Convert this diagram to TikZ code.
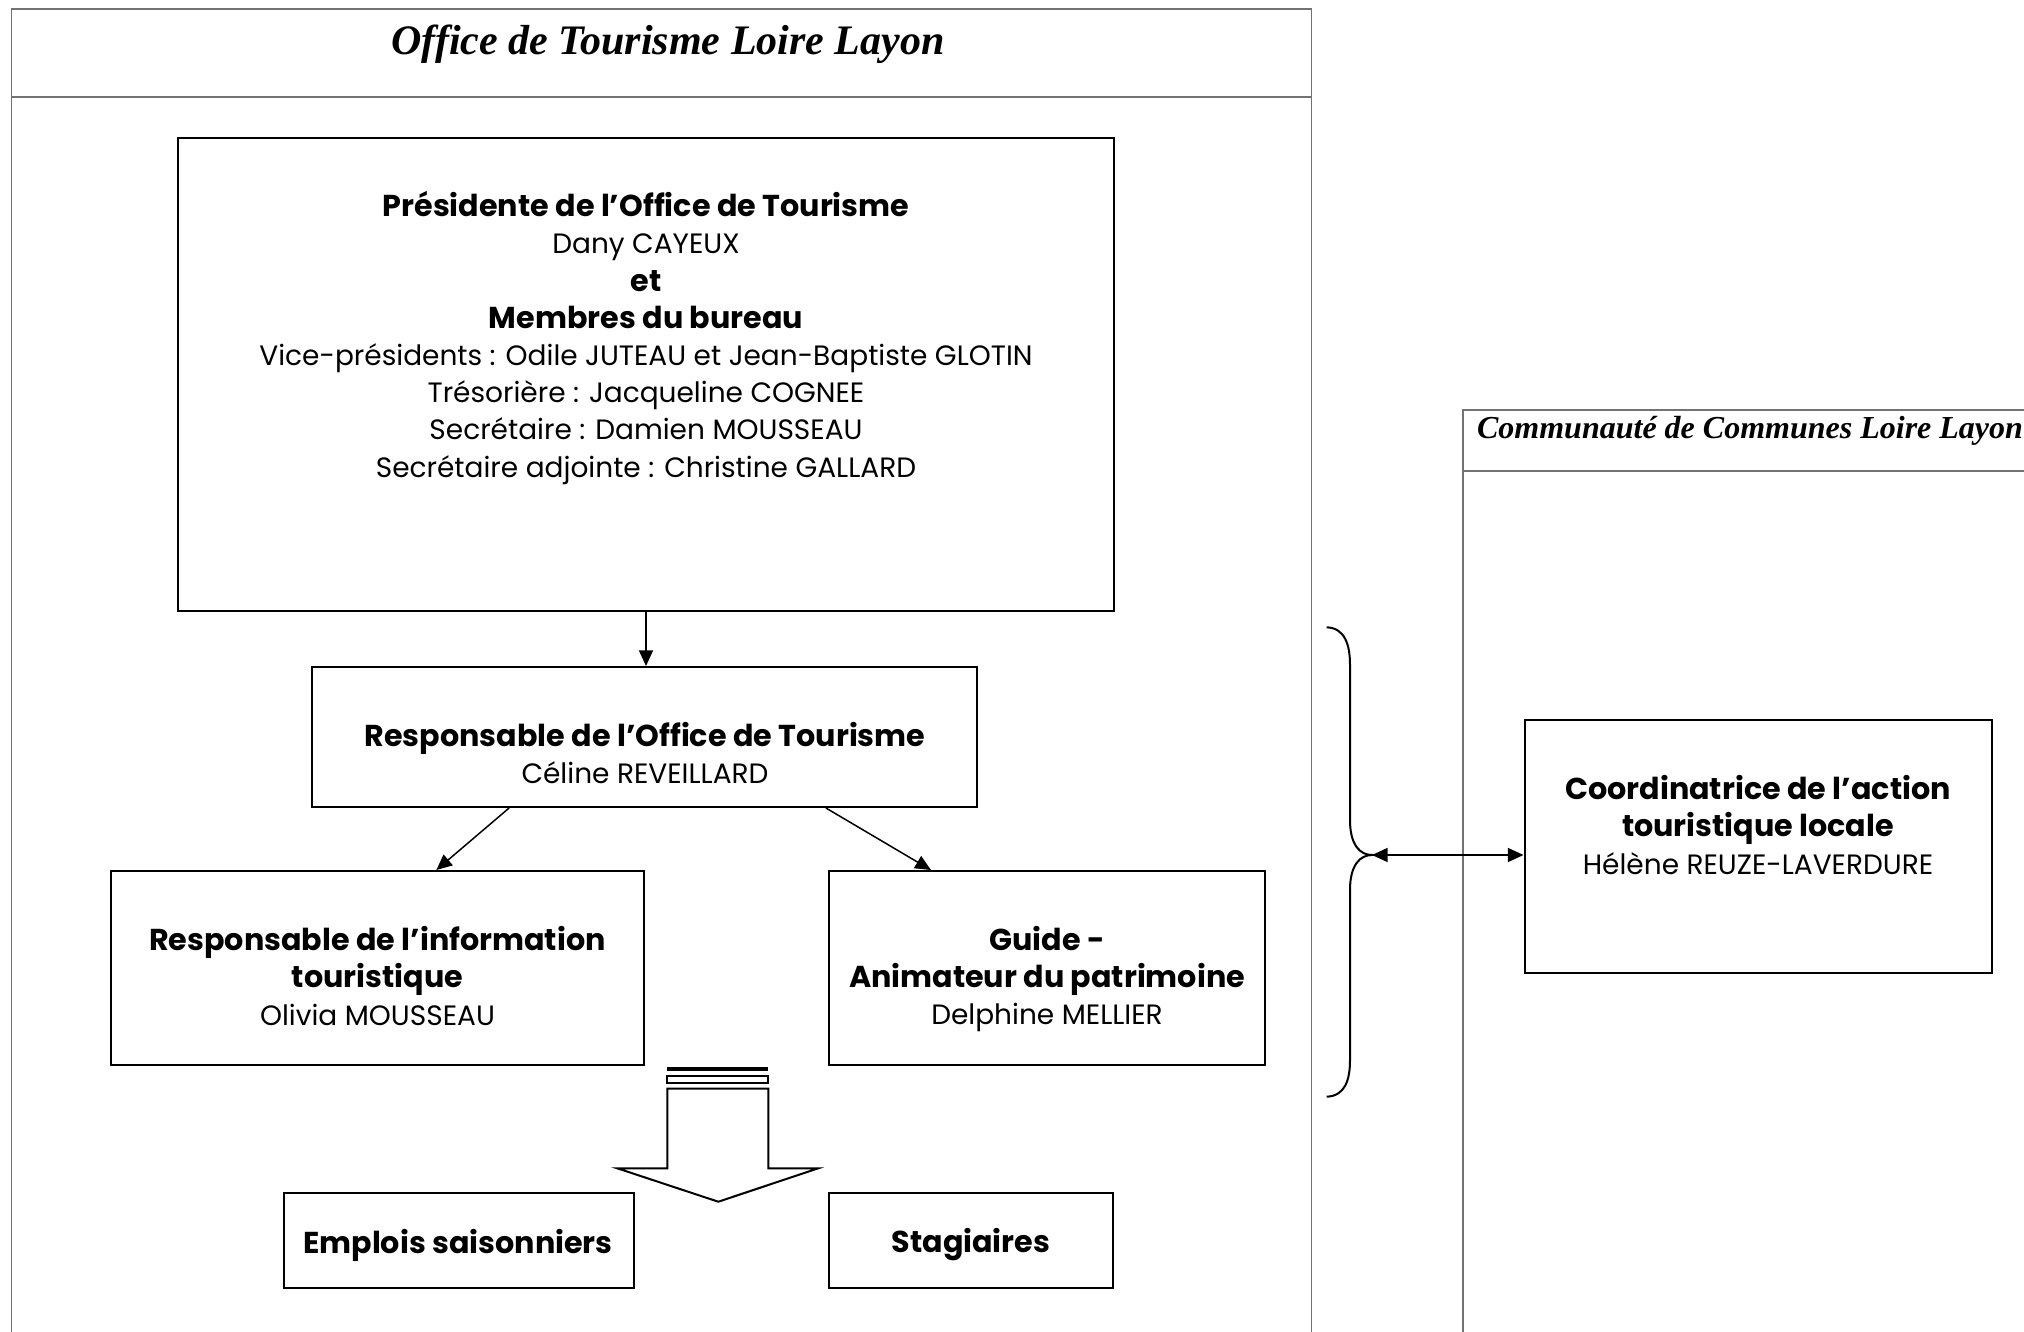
\documentclass[tikz,border=0pt]{standalone}
\usepackage{fontspec}
\setmainfont{Poppins}
\newfontfamily\titlefont{Liberation Serif}
\usetikzlibrary{arrows.meta,fit,calc}
\newcommand\bldline[1]{{\fontsize{15.1}{18.6}\selectfont\bfseries #1}}
\begin{document}
\begin{tikzpicture}[x=0.5pt,y=-0.5pt,
  box/.style={draw=black, line width=1pt, inner sep=0pt},
  frame/.style={draw=black!55, line width=0.6pt},
  arr/.style={-{Triangle[length=7.8pt,width=7pt]}, line width=0.75pt},
  darr/.style={{Triangle[length=7.8pt,width=7pt]}-{Triangle[length=7.8pt,width=7pt]}, line width=0.75pt},
  txt/.style={align=center, font=\fontsize{14}{18.6}\selectfont, inner sep=0pt},
  ttl/.style={inner sep=0pt, anchor=base},
]
\useasboundingbox (0,0) rectangle (2024,1332);
% frames
\draw[frame] (11.6,1332) -- (11.6,9) -- (1311.5,9) -- (1311.5,1332);
\draw[frame] (11.6,97) -- (1311.5,97);
\node[ttl, font={\titlefont\bfseries\itshape\fontsize{21}{25}\selectfont}] (t1) at (668,55) {Office de Tourisme Loire Layon};
\draw[frame] (1463,1332) -- (1463,410) -- (2024,410);
\draw[frame] (1463,471) -- (2024,471);
\node[ttl, font={\titlefont\bfseries\itshape\fontsize{16}{19}\selectfont}] (t2) at (1750,438) {Communauté de Communes Loire Layon};
% boxes
\node[box, fit={(178,138) (1114,610.5)}] (pres) {};
\node[box, fit={(312,667) (977,807)}] (resp) {};
\node[box, fit={(111,871) (644,1065)}] (info) {};
\node[box, fit={(829,871) (1265,1065)}] (guide) {};
\node[box, fit={(284,1193) (634,1288)}] (empl) {};
\node[box, fit={(829,1193) (1113,1288)}] (stag) {};
\node[box, fit={(1524.5,720) (1992,973)}] (coord) {};
% texts
\node[txt] (prestxt) at (646,338) {\bldline{Présidente de l’Office de Tourisme}\\Dany CAYEUX\\\bldline{et}\\\bldline{Membres du bureau}\\Vice-présidents : Odile JUTEAU et Jean-Baptiste GLOTIN\\Trésorière : Jacqueline COGNEE\\Secrétaire : Damien MOUSSEAU\\Secrétaire adjointe : Christine GALLARD};
\node[txt] (resptxt) at (645,753) {\bldline{Responsable de l’Office de Tourisme}\\Céline REVEILLARD};
\node[txt] (infotxt) at (377.5,976) {\bldline{Responsable de l’information}\\\bldline{touristique}\\Olivia MOUSSEAU};
\node[txt] (guidetxt) at (1047,979) {\bldline{Guide -}\\\bldline{Animateur du patrimoine}\\Delphine MELLIER};
\node[txt] (empltxt) at (458,1245) {\bldline{Emplois saisonniers}};
\node[txt] (stagtxt) at (971,1245) {\bldline{Stagiaires}};
\node[txt] (coordtxt) at (1758,825) {\bldline{Coordinatrice de l’action}\\\bldline{touristique locale}\\Hélène REUZE-LAVERDURE};
% connectors
\draw[arr] (pres.south) -- (pres.south |- resp.north);
\draw[arr] ($(resp.south west)!0.297!(resp.south east)$) -- ($(info.north west)!0.61!(info.north east)$);
\draw[arr] ($(resp.south west)!0.772!(resp.south east)$) -- ($(guide.north west)!0.235!(guide.north east)$);
% block arrow
\fill (667,1066.5) rectangle (768,1070.5);
\draw[line width=1pt] (667,1076) rectangle (768,1082.5);
\draw[line width=1pt, line join=miter] (667.3,1088.7) -- (768.3,1088.7) -- (768.3,1168.3) -- (818.3,1168.3) -- (718.3,1201.7) -- (617.3,1168.3) -- (667.3,1168.3) -- cycle;
% brace
\coordinate (bt) at (1372,855);
\draw[line width=1pt] (1326.7,627.3) .. controls (1345,628) and (1350,645) .. (1350,665) -- (1350,820) .. controls (1350,845) and (1360,855) .. (bt) .. controls (1360,855) and (1350,865) .. (1350,890) -- (1350,1060) .. controls (1350,1080) and (1345,1096) .. (1326.7,1096.7);
\draw[darr] (bt) -- (bt -| coord.west);
\end{tikzpicture}
\end{document}
